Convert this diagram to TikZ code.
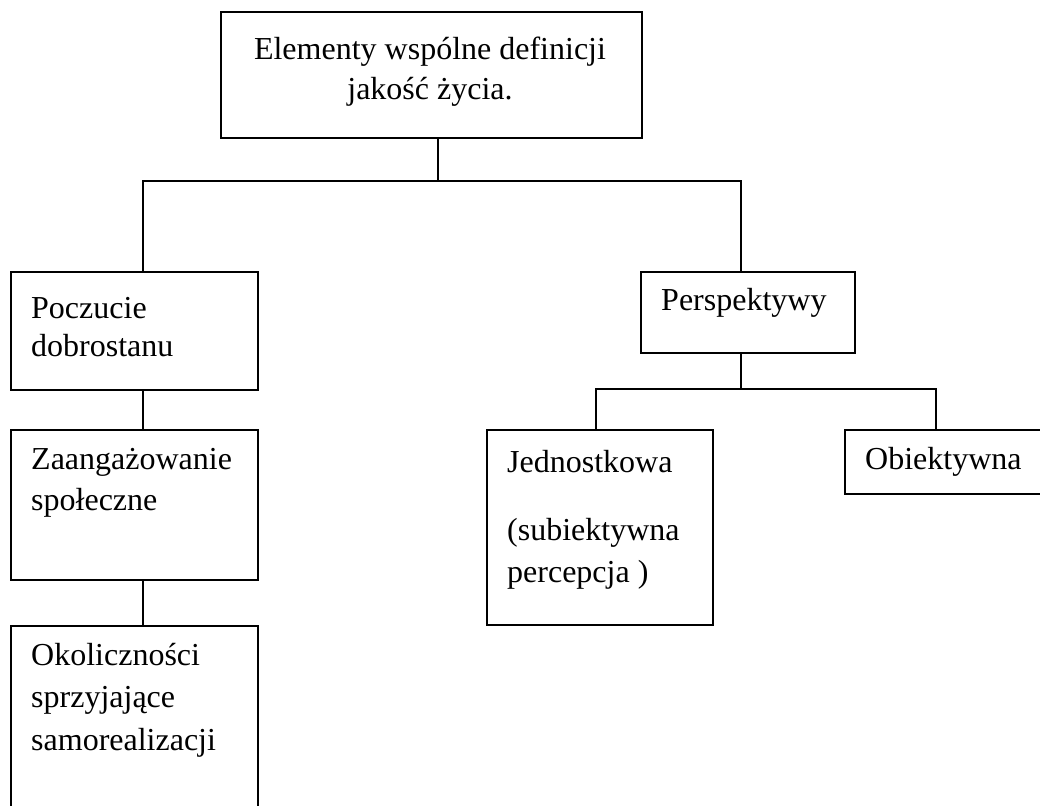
\documentclass[tikz,border=0pt]{standalone}
\usepackage{fontspec}
\setmainfont{Liberation Serif}
\begin{document}
\begin{tikzpicture}[x=1pt,y=-1pt,
  box/.style={draw, line width=2pt, inner sep=0pt, anchor=north west},
  txt/.style={font=\fontsize{32}{40}\selectfont, inner sep=0pt, anchor=base west},
  ctxt/.style={font=\fontsize{32}{40}\selectfont, inner sep=0pt, anchor=base},
  conn/.style={line width=2pt}]
\useasboundingbox (0,0) rectangle (1040,805);
\clip (0,0) rectangle (1040,805);
% boxes
\node[box, minimum width=421pt, minimum height=126pt] (top) at (220,11) {};
\node[box, minimum width=247pt, minimum height=118pt] (poc) at (10,271) {};
\node[box, minimum width=247pt, minimum height=150pt] (zaa) at (10,429) {};
\node[box, minimum width=247pt, minimum height=230pt] (oko) at (10,625) {};
\node[box, minimum width=214pt, minimum height=81pt] (per) at (640,271) {};
\node[box, minimum width=226pt, minimum height=195pt] (jed) at (486,429) {};
\node[box, minimum width=220pt, minimum height=64pt] (obi) at (844,429) {};
% texts
\node[ctxt] (t1) at (430,60) {Elementy wspólne definicji};
\node[ctxt] (t2) at (430,100) {jakość życia.};
\node[txt] (p1) at (31,318) {Poczucie};
\node[txt] (p2) at (31,356) {dobrostanu};
\node[txt] (z1) at (31,469) {Zaangażowanie};
\node[txt] (z2) at (31,510) {społeczne};
\node[txt] (o1) at (31,665) {Okoliczności};
\node[txt] (o2) at (31,707) {sprzyjające};
\node[txt] (o3) at (31,750) {samorealizacji};
\node[txt] (r1) at (661,310) {Perspektywy};
\node[txt] (j1) at (507,472) {Jednostkowa};
\node[txt] (j2) at (507,540) {(subiektywna};
\node[txt] (j3) at (507,582) {percepcja )};
\node[txt] (b1) at (865,469) {Obiektywna};
% connector points
\coordinate (jt) at (438,181);
\coordinate (hl) at (143,181);
\coordinate (hr) at (741,181);
\coordinate (sl) at (596,389);
\coordinate (sr) at (936,389);
% connectors
\draw[conn] (jt |- top.south) -- (jt);
\draw[conn] (hl |- poc.north) -- (hl) -- (hr) -- (hr |- per.north);
\draw[conn] (hl |- poc.south) -- (hl |- zaa.north);
\draw[conn] (hl |- zaa.south) -- (hl |- oko.north);
\draw[conn] (hr |- per.south) -- (hr |- sl);
\draw[conn] (sl |- jed.north) -- (sl) -- (sr) -- (sr |- obi.north);
\end{tikzpicture}
\end{document}
